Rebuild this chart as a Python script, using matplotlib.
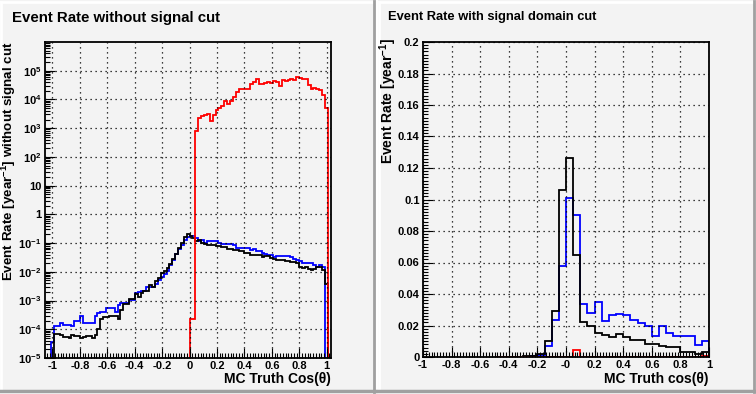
import numpy as np
import matplotlib
matplotlib.use("Agg")
import matplotlib.pyplot as plt
from matplotlib.ticker import FixedLocator, FixedFormatter, MultipleLocator
from matplotlib.patches import Rectangle
from matplotlib.lines import Line2D

# --------------------------------------------------
# Data
# --------------------------------------------------

# left pad: 100 bins over [-1.05, 1.05], values for bins 2..97
left_edges = np.linspace(-1.05, 1.05, 101)

black_left = [
    0, 7e-5, 7e-5, 6.5e-5, 5.4e-5, 5.4e-5, 4.8e-5, 6.2e-5, 5.8e-5, 5.8e-5,
    5e-5, 5.4e-5, 5.8e-5, 5.8e-5, 5.1e-5, 6.2e-5, 1.05e-4, 2.36e-4, 2.7e-4, 2.7e-4,
    2.8e-4, 2.8e-4, 2.8e-4, 2.36e-4, 4.6e-4, 7.4e-4, 7.4e-4, 1.1e-3, 1.1e-3, 1.75e-3,
    1.3e-3, 1.9e-3, 2.1e-3, 2.2e-3, 3.4e-3, 3.0e-3, 4.9e-3, 6.3e-3, 9.2e-3, 1.1e-2,
    1.4e-2, 1.9e-2, 2.9e-2, 4.3e-2, 7e-2, 9.7e-2, 0.165, 0.2, 0.18, 0.15,
    0.12, 0.13, 0.10, 0.092, 0.088, 0.085, 0.085, 0.079, 0.079, 0.075,
    0.075, 0.062, 0.062, 0.057, 0.057, 0.054, 0.054, 0.046, 0.046, 0.040,
    0.040, 0.038, 0.038, 0.033, 0.035, 0.035, 0.031, 0.027, 0.025, 0.025,
    0.025, 0.0235, 0.0235, 0.022, 0.022, 0.0195, 0.0149, 0.0138, 0.0149, 0.013,
    0.012, 0.013, 0.0149, 0.0149, 0.012, 0.0037,
]

blue_left = [
    3.6e-5, 1.27e-4, 1.27e-4, 1.66e-4, 1.4e-4, 1.4e-4, 1.4e-4, 1.27e-4, 1.9e-4, 1.9e-4,
    2.8e-4, 1.6e-4, 1.6e-4, 1.6e-4, 1.66e-4, 2.8e-4, 3.7e-4, 4e-4, 4e-4, 5.7e-4,
    5.7e-4, 5.3e-4, 4e-4, 6.9e-4, 7.9e-4, 7.9e-4, 7.9e-4, 1.03e-3, 1.03e-3, 1.85e-3,
    2e-3, 2.2e-3, 2.2e-3, 3e-3, 3e-3, 3e-3, 3.9e-3, 5e-3, 6.6e-3, 8.7e-3,
    1.1e-2, 1.7e-2, 2.5e-2, 4.3e-2, 6.0e-2, 8.5e-2, 0.127, 0.157, 0.175, 0.175,
    0.145, 0.12, 0.13, 0.10, 0.12, 0.12, 0.115, 0.12, 0.098, 0.092,
    0.092, 0.092, 0.092, 0.085, 0.07, 0.07, 0.066, 0.067, 0.067, 0.057,
    0.06, 0.054, 0.054, 0.044, 0.041, 0.040, 0.040, 0.0334, 0.036, 0.036,
    0.036, 0.035, 0.035, 0.0316, 0.029, 0.0255, 0.023, 0.0206, 0.0206, 0.0195,
    0.0195, 0.017, 0.0149, 0.017, 0.0149, 0,
]

# red only for bins 50..97
red_left = [
    2.2e-4, 2.2e-4, 800, 2200, 2700, 2950, 3100, 1800, 2950, 4400,
    5200, 5700, 8700, 6900, 9100, 12600, 18000, 23000, 23000, 24000,
    24000, 35000, 39000, 51000, 34000, 34000, 37000, 39000, 37000, 45000,
    39000, 30000, 49000, 45000, 49000, 53000, 49000, 60000, 55000, 51000,
    51000, 32000, 23000, 25000, 23000, 20500, 14500, 5000,
]

# right pad: bins of 0.05 from -0.5 to 1
right_edges = np.linspace(-0.5, 1.0, 31)

black_right = [
    0, 0, 0.0001, 0.0002, 0.0004, 0.0007, 0.002, 0.01, 0.029, 0.106,
    0.1266, 0.065, 0.022, 0.0195, 0.015, 0.0138, 0.0129, 0.0144, 0.0125, 0.0106,
    0.0106, 0.0080, 0.0080, 0.0072, 0.0062, 0.0062, 0.0034, 0.0034, 0.0022, 0.003,
]
blue_right = [
    0, 0, 0.0001, 0.0002, 0.0003, 0.0008, 0.0015, 0.0068, 0.0237, 0.0576,
    0.1007, 0.090, 0.0334, 0.028, 0.0347, 0.023, 0.0265, 0.027, 0.0265, 0.0237,
    0.0216, 0.0195, 0.0133, 0.0199, 0.0154, 0.0131, 0.0131, 0.0135, 0.0078, 0.0099,
]
red_right = [
    0, 0, 0, 0, 0, 0, 0, 0, 0, 0,
    0, 0.0046, 0, 0, 0, 0, 0, 0, 0, 0,
    0, 0, 0, 0, 0, 0, 0.0001, 0, 0, 0.0008,
]

x_ticks = [-1, -0.8, -0.6, -0.4, -0.2, 0, 0.2, 0.4, 0.6, 0.8, 1]
x_labels_left = ["-1", "-0.8", "-0.6", "-0.4", "-0.2", "0", "0.2", "0.4", "0.6", "0.8", "1"]
x_labels_right = ["-1", "-0.8", "-0.6", "-0.4", "-0.2", "-0", "0.2", "0.4", "0.6", "0.8", "1"]
log_exps = list(range(-5, 6))
y_ticks_right = [0, 0.02, 0.04, 0.06, 0.08, 0.1, 0.12, 0.14, 0.16, 0.18, 0.2]

# --------------------------------------------------
# Style (ROOT-like)
# --------------------------------------------------
plt.rcParams["font.family"] = ["Liberation Sans", "DejaVu Sans"]
plt.rcParams["font.weight"] = "bold"
plt.rcParams["mathtext.fontset"] = "custom"
plt.rcParams["mathtext.rm"] = "Liberation Sans:bold"
plt.rcParams["mathtext.bf"] = "Liberation Sans:bold"
plt.rcParams["mathtext.it"] = "Liberation Sans:bold"
plt.rcParams["mathtext.default"] = "rm"

W, H = 756, 394
pad_col = "#f3f3f3"

fig = plt.figure(figsize=(7.56, 3.94), dpi=100)
fig.patch.set_facecolor("white")


def fx(px):
    return px / W


def fy(py):
    return 1 - py / H


# pads with bevelled border
for x0, x1 in [(0, 376), (378, 756)]:
    fig.add_artist(Rectangle((fx(x0), fy(393)), fx(x1 - x0), 393 / H,
                             facecolor=pad_col, edgecolor="none",
                             transform=fig.transFigure, zorder=-10))
    fig.add_artist(Line2D([fx(x0 + 1), fx(x1 - 2)], [fy(2), fy(2)], color="white", lw=2,
                          transform=fig.transFigure, zorder=-9))
    fig.add_artist(Line2D([fx(x0 + 1), fx(x0 + 1)], [fy(2), fy(391)], color="white", lw=2,
                          transform=fig.transFigure, zorder=-9))
    fig.add_artist(Line2D([fx(x0), fx(x1 - 1)], [fy(391), fy(391)], color="#a0a0a0", lw=2.5,
                          transform=fig.transFigure, zorder=-9))
    fig.add_artist(Line2D([fx(x1 - 2), fx(x1 - 2)], [fy(1), fy(392)], color="#a0a0a0", lw=2,
                          transform=fig.transFigure, zorder=-9))

axL = fig.add_axes([fx(45), fy(358), fx(286), 316 / H])
axR = fig.add_axes([fx(423), fy(357), fx(286), 315 / H])

for ax in (axL, axR):
    ax.set_facecolor(pad_col)
    for s in ax.spines.values():
        s.set_linewidth(1.3)
    ax.tick_params(which="both", direction="in", top=False, right=False,
                   labelsize=8, width=0.8)
    ax.tick_params(which="major", length=7)
    ax.tick_params(which="minor", length=3.5)
    ax.tick_params(axis="x", pad=2)
    ax.tick_params(axis="y", pad=2.5)
    ax.xaxis.set_minor_locator(MultipleLocator(0.02))
    ax.grid(True, which="major", color="black", ls=(0, (1, 3)), lw=0.9)
    ax.set_axisbelow(False)

# --------------------------------------------------
# Left: without signal cut (log)
# --------------------------------------------------
axL.set_yscale("log")
axL.stairs(blue_left, left_edges[2:99], color="blue", lw=1.3, baseline=1e-7)
axL.stairs(black_left, left_edges[2:99], color="black", lw=1.3, baseline=1e-7)
axL.stairs(red_left, left_edges[50:99], color="red", lw=1.3, baseline=1e-7)
axL.set_xlim(-1.054, 1.031)
axL.set_ylim(1e-5, 1e6)
axL.xaxis.set_major_locator(FixedLocator(x_ticks))
axL.xaxis.set_major_formatter(FixedFormatter(x_labels_left))

log_labels = []
for e in log_exps:
    if e == 0:
        log_labels.append("1")
    elif e == 1:
        log_labels.append("10")
    else:
        log_labels.append(r"10$^{%d}$" % e)
axL.yaxis.set_major_locator(FixedLocator([10.0 ** e for e in log_exps]))
axL.yaxis.set_major_formatter(FixedFormatter(log_labels))
minor = [m * 10.0 ** e for e in range(-5, 6) for m in range(2, 10)]
axL.yaxis.set_minor_locator(FixedLocator(minor))
axL.yaxis.set_minor_formatter(FixedFormatter([""] * len(minor)))

fig.text(fx(12), fy(18), "Event Rate without signal cut", fontsize=10.8,
         ha="left", va="center")
fig.text(fx(9), fy(41), r"Event Rate [year$^{-1}$] without signal cut", fontsize=9.6,
         rotation=90, ha="center", va="top")
fig.text(fx(331), fy(379), "MC Truth Cos(θ)", fontsize=10, ha="right", va="center")

# --------------------------------------------------
# Right: with signal domain cut (linear)
# --------------------------------------------------
axR.stairs(blue_right, right_edges, color="blue", lw=1.3)
axR.stairs(black_right, right_edges, color="black", lw=1.3)
axR.stairs(red_right, right_edges, color="red", lw=1.3)
axR.set_xlim(-1, 1)
axR.set_ylim(0, 0.2)
axR.xaxis.set_major_locator(FixedLocator(x_ticks))
axR.xaxis.set_major_formatter(FixedFormatter(x_labels_right))
axR.yaxis.set_major_locator(FixedLocator(y_ticks_right))
axR.yaxis.set_major_formatter(FixedFormatter(["%g" % v for v in y_ticks_right]))
axR.yaxis.set_minor_locator(MultipleLocator(0.002))

fig.text(fx(388), fy(17), "Event Rate with signal domain cut", fontsize=9.3,
         ha="left", va="center")
fig.text(fx(388), fy(38), r"Event Rate [year$^{-1}$]", fontsize=10,
         rotation=90, ha="center", va="top")
fig.text(fx(709), fy(379), "MC Truth cos(θ)", fontsize=10, ha="right", va="center")

fig.savefig("out.png", dpi=100, facecolor=fig.get_facecolor())
